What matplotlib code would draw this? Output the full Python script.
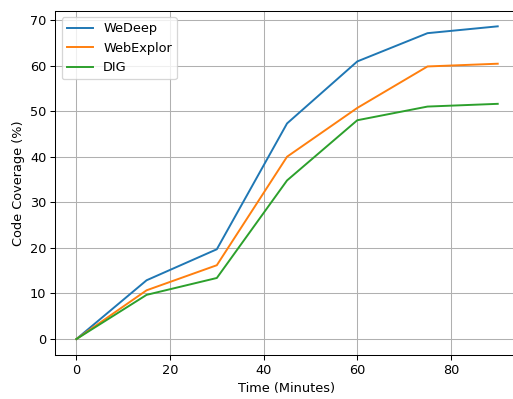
import matplotlib
matplotlib.use("Agg")
import matplotlib.pyplot as plt

time_minutes = [0, 15, 30, 45, 60, 75, 90]
wedeep = [0, 12.9, 19.7, 47.3, 60.9, 67.1, 68.6]
webexplor = [0, 10.7, 16.2, 40.0, 50.7, 59.8, 60.4]
dig = [0, 9.7, 13.4, 34.8, 48.0, 51.0, 51.6]

DPI = 93
fig, ax = plt.subplots(figsize=(513 / DPI, 399 / DPI), dpi=DPI)
ax.plot(time_minutes, wedeep, label="WeDeep")
ax.plot(time_minutes, webexplor, label="WebExplor")
ax.plot(time_minutes, dig, label="DIG")
ax.set_xlabel("Time (Minutes)")
ax.set_ylabel("Code Coverage (%)")
ax.grid(True)
ax.legend(loc="upper left")
ax.spines["right"].set_visible(False)
fig.subplots_adjust(left=0.1078, right=1.0113, top=0.9732, bottom=0.111)
fig.savefig("out.png", dpi=DPI)
